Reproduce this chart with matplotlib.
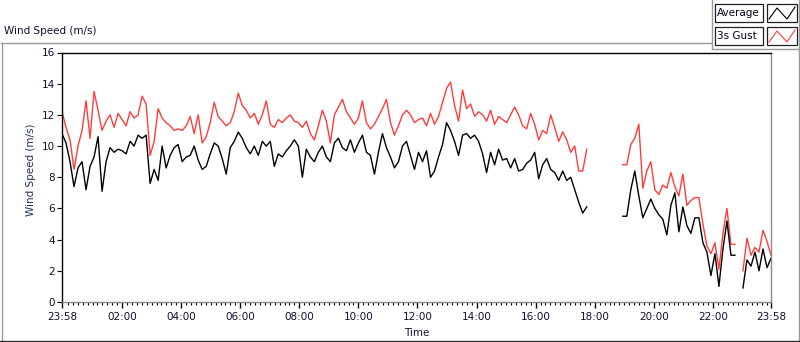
import numpy as np
import matplotlib
matplotlib.use("Agg")
import matplotlib.pyplot as plt
from matplotlib.patches import Rectangle
from matplotlib.lines import Line2D

nan = float("nan")

# Average wind speed (m/s), regular samples from 23:58 to 23:58 next day
avg = [
    10.8, 10.2, 9.0, 7.4, 8.6, 9.0, 7.2, 8.7, 9.3, 10.6, 7.1, 9.0, 9.9, 9.6, 9.8,
    9.7, 9.5, 10.3, 10.0, 10.7, 10.5, 10.7, 7.6, 8.5, 7.8, 10.0, 8.6, 9.4, 9.9, 10.1,
    9.0, 9.3, 9.4, 10.0, 9.1, 8.5, 8.7, 9.5, 10.2, 10.0, 9.2, 8.2, 9.9, 10.3, 10.9,
    10.5, 9.9, 9.5, 10.0, 9.4, 10.3, 10.0, 10.3, 8.7, 9.5, 9.3, 9.7, 10.0, 10.4, 10.0,
    8.0, 9.8, 9.3, 9.0, 9.6, 10.0, 9.3, 9.0, 10.2, 10.5, 9.9, 9.7, 10.4, 9.6, 10.2,
    10.7, 9.6, 9.4, 8.2, 9.6, 10.8, 9.9, 9.3, 8.6, 9.0, 10.0, 10.3, 9.4, 8.5, 9.6,
    9.0, 9.7, 8.0, 8.4, 9.3, 10.1, 11.5, 11.0, 10.3, 9.4, 10.7, 10.8, 10.5, 10.7, 10.3,
    9.5, 8.3, 9.6, 8.8, 9.8, 9.1, 9.2, 8.6, 9.2, 8.4, 8.5, 8.9, 9.1, 9.6, 7.9,
    8.8, 9.2, 8.5, 8.3, 7.8, 8.4, 7.8, 8.0, 7.2, 6.4, 5.7, 6.1,
    nan, nan, nan, nan, nan, nan, nan, nan,
    5.5, 5.5, 7.2, 8.4, 6.8, 5.4, 6.0, 6.6, 6.0, 5.6, 5.3, 4.3, 6.2, 7.0, 4.5,
    6.1, 4.9, 4.4, 5.4, 5.4, 3.8, 3.2, 1.7, 3.1, 1.0, 3.4, 5.2, 3.0, 3.0, nan,
    0.9, 2.7, 2.3, 3.2, 2.0, 3.4, 2.2, 2.8,
]

# 3 s gust (m/s), same sample times
gust = [
    12.2, 11.2, 10.4, 8.5, 10.0, 11.0, 12.9, 10.5, 13.5, 12.3, 11.0, 11.6, 12.0, 11.2, 12.1,
    11.7, 11.3, 12.2, 11.8, 12.0, 13.2, 12.7, 9.4, 10.3, 12.4, 11.8, 11.5, 11.3, 11.0, 11.1,
    11.0, 11.3, 11.9, 10.8, 12.0, 10.2, 10.6, 11.5, 12.8, 11.9, 11.6, 11.3, 11.5, 12.2, 13.4,
    12.6, 12.3, 11.8, 12.1, 11.4, 12.0, 12.9, 11.4, 11.2, 11.7, 11.5, 11.8, 12.0, 11.6, 11.5,
    11.2, 11.6, 10.8, 10.4, 11.3, 12.3, 11.6, 10.2, 12.0, 12.5, 13.0, 12.2, 11.8, 11.4, 11.8,
    12.9, 11.5, 11.1, 11.4, 11.9, 12.4, 13.0, 11.5, 10.7, 11.3, 12.0, 12.3, 12.0, 11.5, 11.7,
    11.8, 11.3, 12.1, 11.4, 11.9, 12.8, 13.7, 14.1, 12.6, 11.6, 13.6, 12.4, 12.7, 11.9, 12.2,
    12.0, 11.6, 12.3, 11.4, 11.9, 11.7, 11.5, 12.0, 12.5, 12.0, 11.3, 11.1, 12.1, 11.4, 10.4,
    11.0, 10.8, 12.0, 11.2, 10.3, 10.9, 10.4, 9.6, 10.0, 8.4, 8.4, 9.8,
    nan, nan, nan, nan, nan, nan, nan, nan,
    8.8, 8.8, 10.1, 10.5, 11.4, 7.3, 8.4, 9.0, 7.2, 6.9, 7.5, 7.3, 8.3, 7.4, 6.8,
    8.2, 6.2, 6.5, 6.7, 6.7, 5.0, 3.6, 3.1, 3.8, 2.1, 4.4, 6.0, 3.7, 3.7, nan,
    2.0, 4.1, 3.0, 3.5, 3.2, 4.6, 3.9, 3.0,
]

tick_minutes = [0, 122, 242, 362, 482, 602, 722, 842, 962, 1082, 1202, 1322, 1440]
tick_labels = ["23:58", "02:00", "04:00", "06:00", "08:00", "10:00", "12:00",
               "14:00", "16:00", "18:00", "20:00", "22:00", "23:58"]
y_ticks = [0, 2, 4, 6, 8, 10, 12, 14, 16]
series_names = ["Average", "3s Gust"]
series_colors = ["#000000", "#ff3c3c"]

W, H = 800, 342
plt.rcParams["font.family"] = ["DejaVu Sans"]
fig = plt.figure(figsize=(W / 100, H / 100), dpi=100)
fig.patch.set_facecolor("white")


def fx(x):
    return x / W


def fy(y):
    return 1 - y / H


ax = fig.add_axes([fx(62), fy(302), (771 - 62) / W, (302 - 52.5) / H])
t = np.linspace(0, 1440, len(avg))
ax.plot(t, gust, color=series_colors[1], lw=1.0)
ax.plot(t, avg, color=series_colors[0], lw=1.0)
ax.set_xlim(0, 1440)
ax.set_ylim(0, 16)

ax.set_xticks(tick_minutes)
ax.set_xticklabels(tick_labels, fontsize=7.5, color="#101030")
minor = [m for m in range(12, 1440, 10) if all(abs(m - tm) > 3 for tm in tick_minutes)]
ax.set_xticks(minor, minor=True)
ax.set_yticks(y_ticks)
ax.set_yticklabels([str(v) for v in y_ticks], fontsize=7.5, color="#101030")
ax.tick_params(axis="x", which="major", length=4, width=1, pad=3.5, color="black")
ax.tick_params(axis="x", which="minor", length=2.2, width=0.8, color="black")
ax.tick_params(axis="y", which="major", length=3.5, width=0.8, pad=1.5, color="black")

for s in ["left", "top"]:
    ax.spines[s].set_color("black")
    ax.spines[s].set_linewidth(1.0)
for s in ["right", "bottom"]:
    ax.spines[s].set_color("#8a8a8a")
    ax.spines[s].set_linewidth(1.0)

fig.text(fx(31), fy(170), "Wind Speed (m/s)", rotation=90, ha="center", va="center",
         fontsize=7.5, color="#203060")
fig.text(fx(417), fy(333), "Time", ha="center", va="center", fontsize=7.5, color="#101030")
fig.text(fx(4), fy(31), "Wind Speed (m/s)", ha="left", va="center", fontsize=7.5, color="#101030")

# outer frame
grey = "#9a9a9a"


def fline(x0, y0, x1, y1, color=grey, lw=1.0):
    fig.add_artist(Line2D([fx(x0), fx(x1)], [fy(y0), fy(y1)], color=color, lw=lw))


fline(0.5, 42.5, 711, 42.5)
fline(711.5, 0, 711.5, 48.5)
fline(711.5, 48.5, 799, 48.5)
fline(798.5, 0, 798.5, 341)
fline(1.5, 42.5, 1.5, 341)
fline(0, 340.5, 799, 340.5, color="#303030")

# legend boxes
rows = [4, 27]
for i, (name, col) in enumerate(zip(series_names, series_colors)):
    y0 = rows[i]
    fig.add_artist(Rectangle((fx(715), fy(y0 + 18)), 48 / W, 18 / H, facecolor="white",
                             edgecolor="#202020", lw=0.9))
    fig.add_artist(Rectangle((fx(767), fy(y0 + 18)), 30 / W, 18 / H, facecolor="white",
                             edgecolor="#202020", lw=0.9))
    fig.text(fx(717), fy(y0 + 9), name, ha="left", va="center", fontsize=7.5, color="#000020")
    zx = [769, 777, 787, 795]
    zy = [y0 + 15, y0 + 4, y0 + 15, y0 + 3]
    fig.add_artist(Line2D([fx(v) for v in zx], [fy(v) for v in zy], color=col, lw=0.8))

fig.savefig("out.png", dpi=100)
